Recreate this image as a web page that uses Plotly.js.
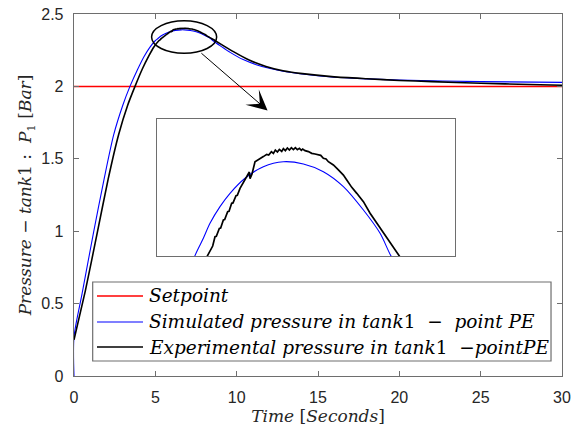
<!DOCTYPE html>
<html>
<head>
<meta charset="utf-8">
<script src="https://cdn.plot.ly/plotly-3.0.1.min.js"></script>
<style>html,body{margin:0;padding:0;background:#fff;}#chart{width:585px;height:433px;}</style>
</head>
<body>
<div id="chart"></div>
<script>
// Setpoint
const setT = [0, 30];
const setV = [2, 2];

// Simulated pressure in tank1 - point PE
const simT = [0, 0, 0.5, 1.2, 1.85, 2.45, 3.0, 3.44, 3.9, 4.3, 4.65,
  4.991, 5.143, 5.264, 5.446, 5.628, 5.901, 6.234, 6.598, 6.962, 7.325, 7.689, 8.053, 8.356, 8.550,
  9.0, 9.6, 10.4, 11.2, 12.0, 12.85, 13.9, 16, 18, 20, 25, 30];
const simV = [0, 0.27, 0.57, 0.99, 1.36, 1.67, 1.87, 2.0, 2.115, 2.205, 2.268,
  2.3153, 2.3292, 2.3412, 2.3546, 2.3653, 2.3774, 2.3867, 2.3907, 2.3889, 2.3827, 2.3707, 2.3519, 2.3332, 2.3153,
  2.28, 2.235, 2.185, 2.15, 2.125, 2.105, 2.087, 2.063, 2.052, 2.044, 2.033, 2.028];

// Experimental pressure in tank1 - point PE
const expT = [0, 0.7, 1.45, 2.1, 2.75, 3.3, 3.75, 4.2, 4.6, 4.9,
  5.215, 5.294, 5.313, 5.355, 5.379, 5.434, 5.458, 5.507, 5.531, 5.585, 5.610, 5.658, 5.682, 5.737, 5.761,
  5.810, 5.882, 5.931, 5.979, 5.992, 6.028, 6.082, 6.173, 6.234, 6.295, 6.331, 6.380, 6.416, 6.452, 6.489,
  6.525, 6.568, 6.598, 6.634, 6.671, 6.707, 6.743, 6.780, 6.816, 6.852, 6.889, 6.925, 6.949, 6.992, 7.053,
  7.113, 7.174, 7.234, 7.277, 7.325, 7.374, 7.416, 7.507, 7.598, 7.689, 7.750, 7.841, 7.932, 8.053, 8.174,
  8.295, 8.417, 8.538, 8.690,
  9.2, 9.8, 10.8, 11.8, 12.85, 13.9, 16, 18, 20, 22, 25, 28, 30];
const expV = [0.25, 0.59, 1.0, 1.36, 1.67, 1.87, 2.0, 2.12, 2.21, 2.27,
  2.3150, 2.3225, 2.3230, 2.3305, 2.3308, 2.3372, 2.3375, 2.3439, 2.3442, 2.3506, 2.3509, 2.3573, 2.3576, 2.3634, 2.3637,
  2.3693, 2.3747, 2.3782, 2.3824, 2.3771, 2.3808, 2.3907, 2.3929, 2.3948, 2.3966, 2.3961, 2.3988, 2.3974, 2.4001, 2.3985,
  2.4006, 2.3990, 2.4012, 2.3996, 2.4017, 2.4001, 2.4020, 2.4004, 2.4020, 2.4004, 2.4014, 2.3998, 2.4009, 2.3996, 2.3988,
  2.3974, 2.3969, 2.3966, 2.3958, 2.3934, 2.3929, 2.3907, 2.3881, 2.3841, 2.3800, 2.3760, 2.3701, 2.3653, 2.3586, 2.3493,
  2.3412, 2.3332, 2.3252, 2.3153,
  2.28, 2.24, 2.18, 2.138, 2.108, 2.09, 2.066, 2.053, 2.041, 2.033, 2.022, 2.013, 2.008];

const names = [
  '<i>Setpoint</i>',
  '<i>Simulated pressure in tank</i>1  −  <i>point PE</i>',
  '<i>Experimental pressure in tank</i>1  −<i>pointPE</i>'
];
const colors = ['#ff0000', '#0000ff', '#000000'];
const widths = [1.5, 1.1, 1.6];

const serif = 'DejaVu Serif, Liberation Serif, serif';
const sans = 'Liberation Sans, Arial, sans-serif';
const axCol = '#6e6e6e';

const traces = [
  {x: setT, y: setV, type: 'scatter', mode: 'lines', name: names[0], line: {color: colors[0], width: widths[0]}},
  {x: simT, y: simV, type: 'scatter', mode: 'lines', name: names[1], line: {color: colors[1], width: widths[1], shape: 'spline', smoothing: 0.8}},
  {x: expT, y: expV, type: 'scatter', mode: 'lines', name: names[2], line: {color: colors[2], width: widths[2], shape: 'spline', smoothing: 0.5}},
  {x: simT, y: simV, type: 'scatter', mode: 'lines', xaxis: 'x2', yaxis: 'y2', name: names[1], line: {color: colors[1], width: 1.1, shape: 'spline', smoothing: 0.8}},
  {x: expT, y: expV, type: 'scatter', mode: 'lines', xaxis: 'x2', yaxis: 'y2', name: names[2], line: {color: colors[2], width: 1.7}}
];

// Legend box (drawn as layout items so sample length and row spacing match)
const legRows = [0.221, 0.1492, 0.0801];
const shapes = [
  {type: 'circle', xref: 'x', yref: 'y', x0: 4.77, x1: 8.77, y0: 2.229, y1: 2.453,
   line: {color: '#000000', width: 1.5}},
  {type: 'rect', xref: 'paper', yref: 'paper', x0: 0.0383, x1: 0.9775, y0: 0.0414, y1: 0.2597,
   fillcolor: '#ffffff', line: {color: axCol, width: 1.2}, layer: 'above'}
];
const annotations = [
  {x: 11.9, y: 1.834, xref: 'x', yref: 'y', ax: 7.74, ay: 2.238, axref: 'x', ayref: 'y',
   text: '', showarrow: true, arrowhead: 3, arrowsize: 3.4, arrowwidth: 1, arrowcolor: '#000000', standoff: 0}
];
legRows.forEach((ry, i) => {
  shapes.push({type: 'line', xref: 'paper', yref: 'paper', x0: 0.0471, x1: 0.1414, y0: ry, y1: ry,
    line: {color: colors[i], width: i === 1 ? 1.2 : 1.5}, layer: 'above'});
  annotations.push({x: 0.1496, y: ry, xref: 'paper', yref: 'paper', xanchor: 'left', yanchor: 'middle',
    text: names[i], showarrow: false, font: {family: serif, size: 18.5, color: '#000000'}});
});

const layout = {
  width: 585, height: 433,
  margin: {l: 74, r: 23, t: 14, b: 57},
  paper_bgcolor: '#ffffff', plot_bgcolor: 'rgba(0,0,0,0)',
  showlegend: false,
  font: {family: sans, size: 16, color: '#262626'},
  xaxis: {
    range: [0, 30], tickvals: [0, 5, 10, 15, 20, 25, 30],
    ticks: 'inside', ticklen: 5, tickcolor: axCol, tickwidth: 1,
    showline: true, linecolor: axCol, linewidth: 1.3, mirror: 'ticks',
    showgrid: false, zeroline: false, ticklabelstandoff: 6,
    tickfont: {family: sans, size: 16, color: '#262626'},
    title: {text: '<i>Time</i> [<i>Seconds</i>]', font: {family: serif, size: 17, color: '#262626'}, standoff: 4}
  },
  yaxis: {
    range: [0, 2.5], tickvals: [0, 0.5, 1, 1.5, 2, 2.5],
    ticks: 'inside', ticklen: 5, tickcolor: axCol, tickwidth: 1,
    showline: true, linecolor: axCol, linewidth: 1.3, mirror: 'ticks',
    showgrid: false, zeroline: false, ticklabelstandoff: 6,
    tickfont: {family: sans, size: 16, color: '#262626'},
    title: {text: '<i>Pressure</i> − <i>tank</i>1 :  <i>P</i><sub>1</sub> [<i>Bar</i>]', font: {family: serif, size: 17, color: '#262626'}, standoff: 5}
  },
  xaxis2: {
    domain: [0.170, 0.781], anchor: 'y2', range: [4.3, 9.72],
    showticklabels: false, ticks: '', showgrid: false, zeroline: false,
    showline: true, mirror: true, linecolor: axCol, linewidth: 1.3
  },
  yaxis2: {
    domain: [0.3315, 0.710], anchor: 'x2', range: [2.315, 2.425],
    showticklabels: false, ticks: '', showgrid: false, zeroline: false,
    showline: true, mirror: true, linecolor: axCol, linewidth: 1.3
  },
  shapes: shapes,
  annotations: annotations
};

Plotly.newPlot('chart', traces, layout, {staticPlot: true, displayModeBar: false});
</script>
</body>
</html>
